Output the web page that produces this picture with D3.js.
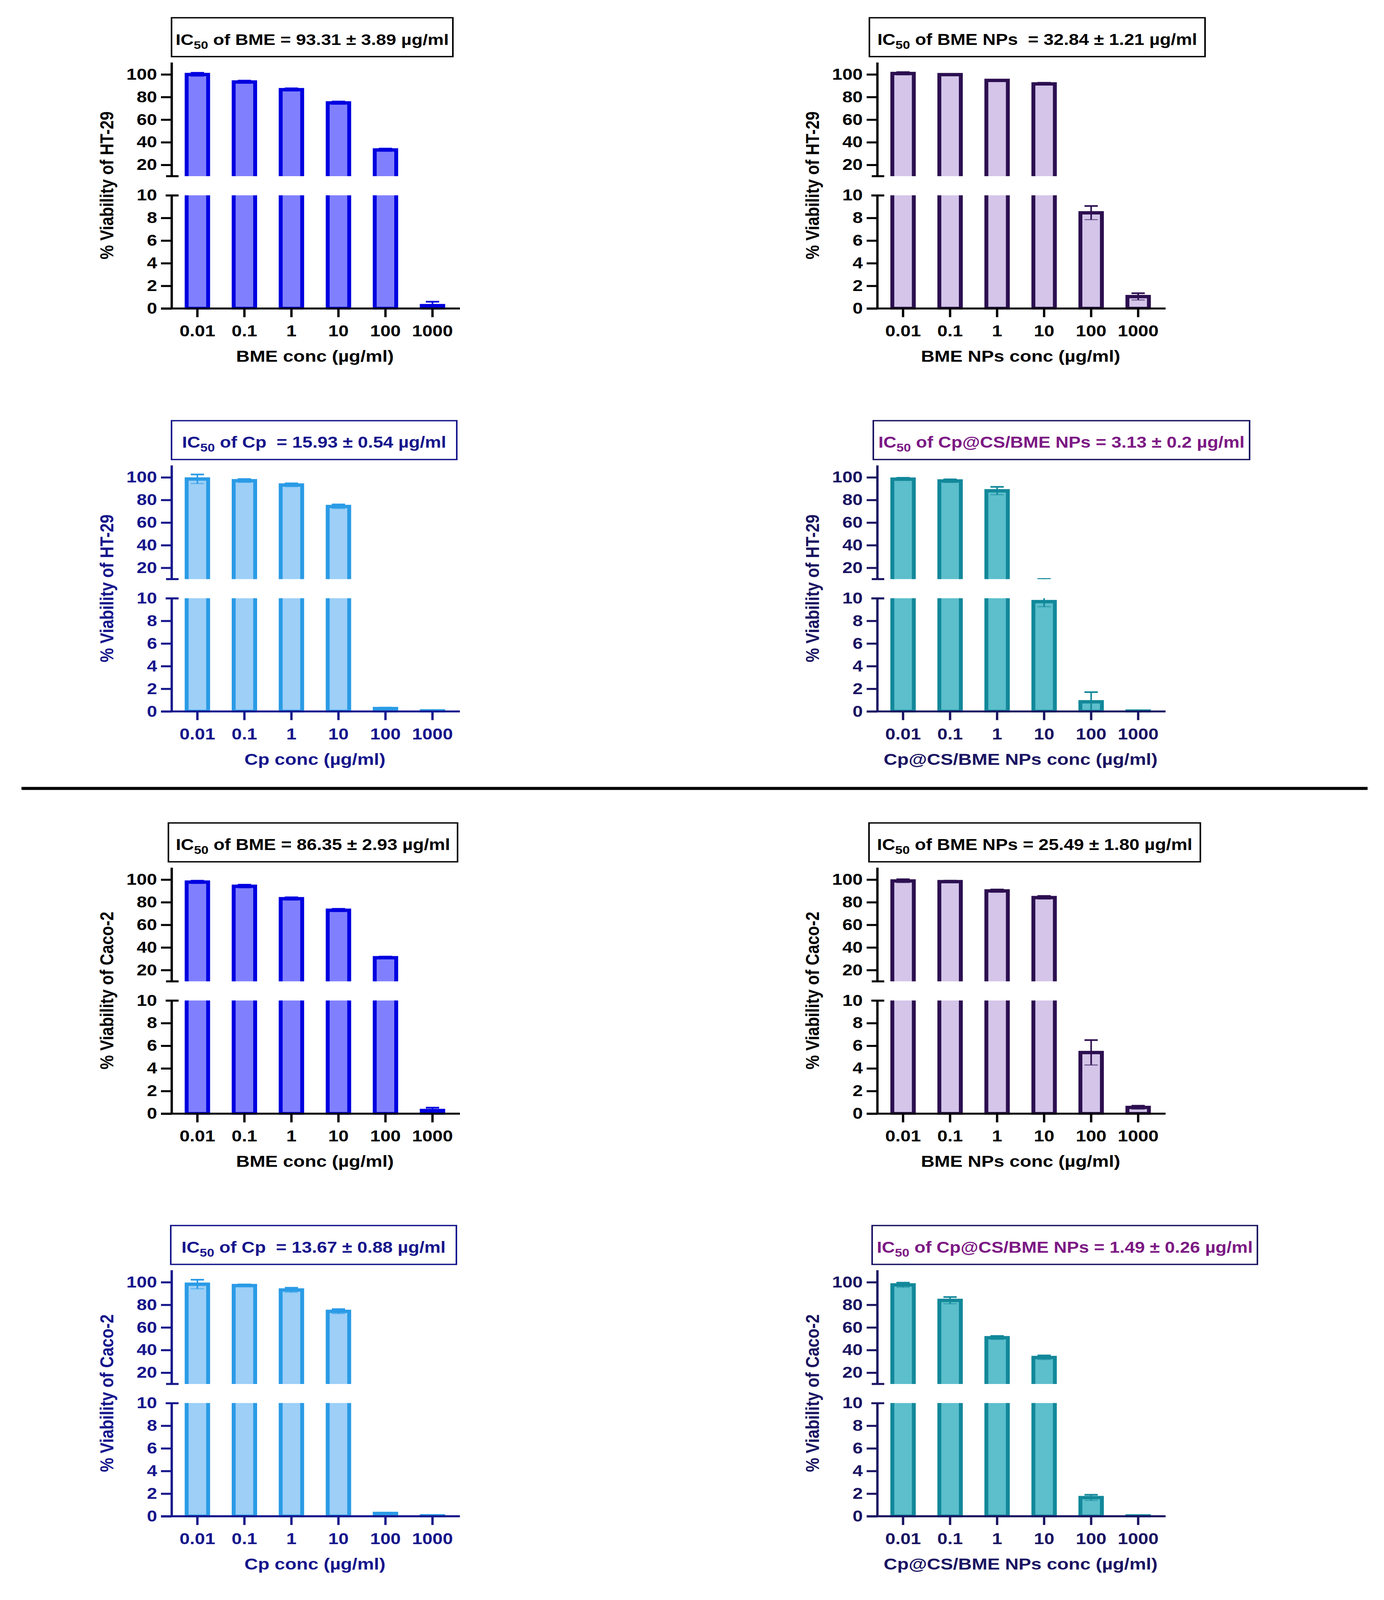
<!DOCTYPE html>
<html><head><meta charset="utf-8">
<script src="https://cdn.jsdelivr.net/npm/d3@7"></script>
<style>
html,body{margin:0;padding:0;background:#fff;overflow:hidden}
text{font-family:"Liberation Sans",Arial,sans-serif;font-weight:bold}
</style>
</head><body><script>
// ---------- DATA ----------
const concLabels = ["0.01","0.1","1","10","100","1000"];
const upperTicks = [20,40,60,80,100];
const lowerTicks = [0,2,4,6,8,10];

const bmeHT29       = [99.9, 93.3, 86.5, 74.8, 33.2, 0.25];
const bmeHT29Err    = [1.5, 1.2, 1.2, 1.2, 1.2, 0.35];
const bmeNpsHT29    = [100.8, 99.8, 94.7, 91.6, 8.45, 1.05];
const bmeNpsHT29Err = [1.2, 0.6, 0.6, 1.0, 0.6, 0.3];
const cpHT29        = [98.5, 97.0, 93.2, 74.2, 0.25, 0.05];
const cpHT29Err     = [4.0, 1.5, 1.5, 1.8, 0.08, 0.02];
const cpcsHT29      = [98.4, 96.8, 88.1, 9.7, 0.85, 0.03];
const cpcsHT29Err   = [1.2, 1.4, 3.5, 0.45, 0.85, 0.01];
const bmeCaco2      = [97.8, 94.1, 83.1, 72.9, 30.9, 0.28];
const bmeCaco2Err   = [1.2, 1.4, 1.2, 1.2, 1.0, 0.25];
const bmeNpsCaco2   = [98.8, 98.2, 90.0, 84.1, 5.4, 0.55];
const bmeNpsCaco2Err= [1.5, 0.8, 1.2, 1.4, 1.1, 0.15];
const cpCaco2       = [98.2, 97.0, 93.1, 74.2, 0.25, 0.04];
const cpCaco2Err    = [4.0, 1.0, 2.0, 2.0, 0.08, 0.02];
const cpcsCaco2     = [97.6, 83.9, 50.9, 33.4, 1.65, 0.03];
const cpcsCaco2Err  = [2.0, 3.0, 1.5, 1.8, 0.25, 0.01];

const titleTails = [
  " of BME = 93.31 ± 3.89 µg/ml",
  " of BME NPs  = 32.84 ± 1.21 µg/ml",
  " of Cp  = 15.93 ± 0.54 µg/ml",
  " of Cp@CS/BME NPs = 3.13 ± 0.2 µg/ml",
  " of BME = 86.35 ± 2.93 µg/ml",
  " of BME NPs = 25.49 ± 1.80 µg/ml",
  " of Cp  = 13.67 ± 0.88 µg/ml",
  " of Cp@CS/BME NPs = 1.49 ± 0.26 µg/ml"
];
const xTitles = ["BME conc (µg/ml)","BME NPs conc (µg/ml)","Cp conc (µg/ml)","Cp@CS/BME NPs conc (µg/ml)"];
const yTitles = ["% Viability of HT-29","% Viability of Caco-2"];

// ---------- STYLES / LAYOUT ----------
const styles = {
  BME:  {fill:"#8080ff", stroke:"#0000e0", axis:"#000000", title:"#000000", box:"#000000"},
  NPs:  {fill:"#d4c5e9", stroke:"#2c0f50", axis:"#000000", title:"#000000", box:"#000000"},
  Cp:   {fill:"#9dcff7", stroke:"#2a9be6", axis:"#16168c", title:"#16168c", box:"#16168c"},
  CpCS: {fill:"#5cbfcb", stroke:"#12889a", axis:"#1a1462", title:"#7c1984", box:"#1a1462"}
};
const panels = [
  {row:0,col:0,type:"BME", v:bmeHT29,    e:bmeHT29Err,    t:0, xt:0, yt:0},
  {row:0,col:1,type:"NPs", v:bmeNpsHT29, e:bmeNpsHT29Err, t:1, xt:1, yt:0},
  {row:1,col:0,type:"Cp",  v:cpHT29,     e:cpHT29Err,     t:2, xt:2, yt:0},
  {row:1,col:1,type:"CpCS",v:cpcsHT29,   e:cpcsHT29Err,   t:3, xt:3, yt:0},
  {row:2,col:0,type:"BME", v:bmeCaco2,   e:bmeCaco2Err,   t:4, xt:0, yt:1},
  {row:2,col:1,type:"NPs", v:bmeNpsCaco2,e:bmeNpsCaco2Err,t:5, xt:1, yt:1},
  {row:3,col:0,type:"Cp",  v:cpCaco2,    e:cpCaco2Err,    t:6, xt:2, yt:1},
  {row:3,col:1,type:"CpCS",v:cpcsCaco2,  e:cpcsCaco2Err,  t:7, xt:3, yt:1}
];
// title box [left, right, text width] relative to y axis
const boxLayout = [[0,720,699],[-20,839,818],[0,730,676],[-10,953,937],[-8,732,702],[-21,827,807],[-2,729,676],[-13,973,962]];

const W=3542, H=4777;
const rowY=[921,2124,3325,4527], colX=[439,2245];
const LOW_H=338, GAP=57, UP_TOP=735;
const BAR_W=55, BAR_SW=10, AX_SW=6;

const vw = window.innerWidth || W, vh = window.innerHeight || H;
const svg = d3.select("body").append("svg")
  .attr("width",vw).attr("height",vh)
  .attr("viewBox",`0 0 ${W} ${H}`)
  .attr("preserveAspectRatio","none")
  .style("display","block");
svg.append("rect").attr("width",W).attr("height",H).attr("fill","#fff");

const yLow = d3.scaleLinear().domain([0,10]).range([0,-LOW_H]);
const yUp  = d3.scaleLinear().domain([10,110.7]).range([-(LOW_H+GAP), -UP_TOP]);
const x = d3.scaleBand().domain(concLabels).range([6,728]);
const cx = c => x(c) + x.bandwidth()/2;

function drawErr(gr, data, y, st){
  const e = gr.append("g").attr("stroke",st.stroke).attr("fill","none");
  e.selectAll("line.v").data(data).join("line").attr("class","v")
    .attr("x1",d=>cx(d.c)).attr("x2",d=>cx(d.c))
    .attr("y1",d=>y(d.v-d.e)).attr("y2",d=>y(d.v+d.e)).attr("stroke-width",4);
  e.selectAll("line.t").data(data).join("line").attr("class","t")
    .attr("x1",d=>cx(d.c)-17).attr("x2",d=>cx(d.c)+17)
    .attr("y1",d=>y(d.v+d.e)).attr("y2",d=>y(d.v+d.e)).attr("stroke-width",5);
  e.selectAll("line.b").data(data).join("line").attr("class","b")
    .attr("x1",d=>cx(d.c)-17).attr("x2",d=>cx(d.c)+17)
    .attr("y1",d=>y(d.v-d.e)).attr("y2",d=>y(d.v-d.e)).attr("stroke-width",3).attr("opacity",0.6);
}

function styleAxis(ax, st, fs){
  ax.attr("font-size",fs).attr("font-family",'"Liberation Sans",Arial,sans-serif');
  ax.selectAll("path.domain").attr("stroke",st.axis).attr("stroke-width",AX_SW);
  ax.selectAll(".tick line").attr("stroke",st.axis).attr("stroke-width",AX_SW);
  ax.selectAll(".tick text").attr("fill",st.axis).attr("font-weight","bold");
}

panels.forEach((p,i)=>{
  const st = styles[p.type];
  const g = svg.append("g").attr("transform",`translate(${colX[p.col]},${rowY[p.row]})`);
  const defs = g.append("defs");
  defs.append("clipPath").attr("id",`cu${i}`).append("rect")
    .attr("x",-5).attr("y",-UP_TOP-80).attr("width",790).attr("height",UP_TOP+80-(LOW_H+GAP));
  defs.append("clipPath").attr("id",`cl${i}`).append("rect")
    .attr("x",-5).attr("y",-LOW_H).attr("width",790).attr("height",LOW_H+3);
  const data = concLabels.map((c,j)=>({c, v:p.v[j], e:p.e[j]}));

  // upper segment
  const gu = g.append("g").attr("clip-path",`url(#cu${i})`);
  gu.selectAll("rect").data(data.filter(d=>d.v>10)).join("rect")
    .attr("x",d=>cx(d.c)-BAR_W/2).attr("width",BAR_W)
    .attr("y",d=>yUp(d.v)).attr("height",d=>yUp(10)+30-yUp(d.v))
    .attr("fill",st.fill).attr("stroke",st.stroke).attr("stroke-width",BAR_SW);
  drawErr(gu, data, yUp, st);

  // lower segment
  const gl = g.append("g").attr("clip-path",`url(#cl${i})`);
  gl.selectAll("rect").data(data).join("rect")
    .attr("x",d=>cx(d.c)-BAR_W/2).attr("width",BAR_W)
    .attr("y",d=> d.v>10 ? yLow(10)-30 : yLow(d.v))
    .attr("height",d=> d.v>10 ? -(yLow(10)-30) : -yLow(d.v))
    .attr("fill",st.fill).attr("stroke",st.stroke).attr("stroke-width",BAR_SW);
  drawErr(gl, data, yLow, st);

  // axes
  const au = g.append("g").call(d3.axisLeft(yUp).tickValues(upperTicks).tickSize(27).tickSizeOuter(0).tickPadding(10).tickFormat(d3.format("d")));
  styleAxis(au, st, 47);
  g.append("line").attr("x1",-14).attr("x2",18).attr("y1",yUp(10)).attr("y2",yUp(10))
    .attr("stroke",st.axis).attr("stroke-width",AX_SW);
  const al = g.append("g").call(d3.axisLeft(yLow).tickValues(lowerTicks).tickSize(27).tickSizeOuter(0).tickPadding(10).tickFormat(d3.format("d")));
  styleAxis(al, st, 47);
  al.selectAll(".tick").filter(d=>d===10).select("line").attr("x1",18).attr("x2",-15);
  al.selectAll(".tick").filter(d=>d===10).select("text").attr("x",-37);

  const axb = g.append("g").call(d3.axisBottom(x).tickSize(26).tickSizeOuter(0).tickPadding(24));
  styleAxis(axb, st, 47);
  axb.select("path.domain").remove();
  g.append("line").attr("x1",-27).attr("x2",x.range()[1]+10).attr("y1",0).attr("y2",0)
    .attr("stroke",st.axis).attr("stroke-width",AX_SW);

  // axis titles
  g.append("text").attr("transform",`translate(-149,${-UP_TOP/2})rotate(-90)`)
    .attr("text-anchor","middle").attr("font-size",48).attr("fill",st.axis).text(yTitles[p.yt]);
  g.append("text").attr("x",(x.range()[0]+x.range()[1])/2).attr("y",159)
    .attr("text-anchor","middle").attr("font-size",48).attr("fill",st.axis).text(xTitles[p.xt]);

  // title box
  const [b0,b1,tw] = boxLayout[i];
  g.append("rect").attr("x",b0).attr("y",-868).attr("width",b1-b0).attr("height",116)
    .attr("fill","none").attr("stroke",st.box).attr("stroke-width",4);
  const t = g.append("text").attr("x",(b0+b1)/2).attr("y",-868+81).attr("text-anchor","middle")
    .attr("fill",st.title).attr("xml:space","preserve").style("white-space","pre");
  const base = 44;
  t.append("tspan").text("IC");
  const sub = t.append("tspan").text("50");
  const tail = t.append("tspan").text(titleTails[p.t]);
  const setSize = fs => {
    t.attr("font-size",fs);
    sub.attr("font-size",fs*0.72).attr("dy",fs*0.25);
    tail.attr("dy",-fs*0.25);
  };
  setSize(base);
  const len = t.node().getComputedTextLength();
  if (len>0) setSize(base*tw/len);
});

// divider
svg.append("line").attr("x1",55).attr("x2",3500).attr("y1",2354).attr("y2",2354)
  .attr("stroke","#000").attr("stroke-width",9);
</script></body></html>
